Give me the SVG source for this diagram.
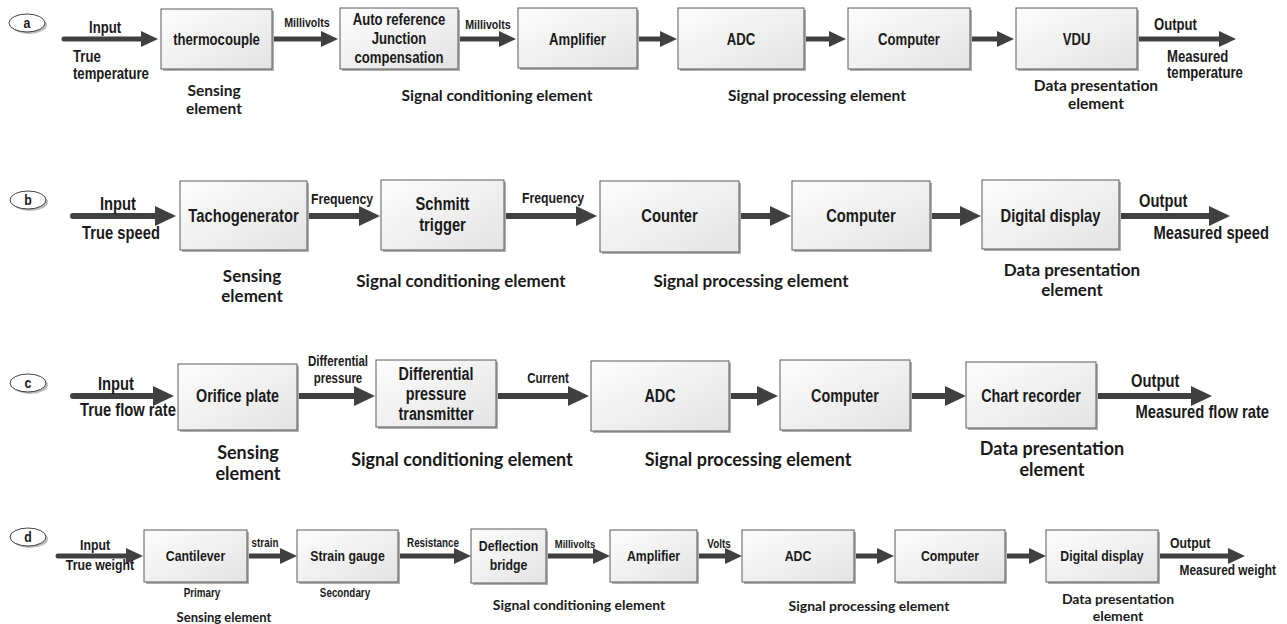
<svg xmlns="http://www.w3.org/2000/svg" width="1287" height="624" viewBox="0 0 1287 624">
<defs>
<linearGradient id="bg" x1="0" y1="0" x2="1" y2="1">
<stop offset="0" stop-color="#fdfdfd"/>
<stop offset="1" stop-color="#e3e3e3"/>
</linearGradient>
<marker id="hA" markerUnits="userSpaceOnUse" markerWidth="18" markerHeight="16" refX="7" refY="8" orient="auto">
<path d="M0,0 L17,8 L0,16 Z" fill="#404040"/>
</marker>
<marker id="hB" markerUnits="userSpaceOnUse" markerWidth="22" markerHeight="20" refX="9" refY="10" orient="auto">
<path d="M0,0 L21,10 L0,20 Z" fill="#404040"/>
</marker>
</defs>
<style>
.box{fill:url(#bg);stroke:#5a5a5a;stroke-width:1}
.sh{fill:#b0b0b0}
.n{font-family:'Liberation Sans',Arial,sans-serif;font-weight:bold;fill:#1a1a1a}
.m{text-anchor:middle}
.e{text-anchor:end}
.sec{font-family:Lato,'Open Sans',sans-serif;font-weight:bold;fill:#1a1a1a;text-anchor:middle}
.arA{stroke:#404040;stroke-width:5;fill:none;stroke-linecap:round;marker-end:url(#hA)}
.arB{stroke:#404040;stroke-width:6;fill:none;stroke-linecap:round;marker-end:url(#hB)}
.el{fill:#fff;stroke:#444;stroke-width:1}
.els{fill:#bbb}
.s16{font-size:16px}.s13{font-size:13px}.s18{font-size:18px}.s15{font-size:15px}.s175{font-size:17.5px}.s14{font-size:14px}.s12{font-size:12px}.s115{font-size:11.5px}.s145{font-size:14.5px}
</style>

<!-- connectors -->
<g id="connectors">
<line class="arA" x1="64" y1="39" x2="148" y2="39"/>
<line class="arA" x1="272" y1="39" x2="328" y2="39"/>
<line class="arA" x1="458" y1="39" x2="506" y2="39"/>
<line class="arA" x1="637" y1="39" x2="667" y2="39"/>
<line class="arA" x1="804" y1="39" x2="836" y2="39"/>
<line class="arA" x1="971" y1="39" x2="1004" y2="39"/>
<line class="arA" x1="1138" y1="39" x2="1226" y2="39"/>

<line class="arB" x1="73" y1="216" x2="164" y2="216"/>
<line class="arB" x1="307" y1="216" x2="368" y2="216"/>
<line class="arB" x1="504" y1="216" x2="585" y2="216"/>
<line class="arB" x1="739" y1="216" x2="779" y2="216"/>
<line class="arB" x1="930" y1="216" x2="969" y2="216"/>
<line class="arB" x1="1119" y1="216" x2="1218" y2="216"/>

<line class="arB" x1="73" y1="396" x2="162" y2="396"/>
<line class="arB" x1="297" y1="396" x2="363" y2="396"/>
<line class="arB" x1="496" y1="396" x2="577" y2="396"/>
<line class="arB" x1="729" y1="396" x2="766" y2="396"/>
<line class="arB" x1="910" y1="396" x2="954" y2="396"/>
<line class="arB" x1="1096" y1="396" x2="1200" y2="396"/>

<line class="arA" x1="58" y1="556" x2="133" y2="556"/>
<line class="arA" x1="247" y1="556" x2="287" y2="556"/>
<line class="arA" x1="398" y1="556" x2="461" y2="556"/>
<line class="arA" x1="546" y1="556" x2="600" y2="556"/>
<line class="arA" x1="697" y1="556" x2="732" y2="556"/>
<line class="arA" x1="854" y1="556" x2="884" y2="556"/>
<line class="arA" x1="1005" y1="556" x2="1036" y2="556"/>
<line class="arA" x1="1158" y1="556" x2="1235" y2="556"/>
</g>

<!-- row a -->
<g id="label-a"><ellipse class="els" cx="29" cy="25" rx="18" ry="9"/><ellipse class="el" cx="27" cy="23" rx="18" ry="9"/><text class="n m s15" transform="matrix(.82 0 0 1 27 28)">a</text></g>
<g id="a-input"><text class="n m s16" transform="matrix(.82 0 0 1 105 33)">Input</text><text class="n s16" transform="matrix(.82 0 0 1 73 62)">True</text><text class="n s16" transform="matrix(.82 0 0 1 73 79)">temperature</text></g>
<g id="a-thermocouple"><rect class="sh" x="163" y="11" width="111" height="60"/><rect class="box" x="161" y="9" width="111" height="60"/><text class="n m s16" transform="matrix(.82 0 0 1 216.5 45)">thermocouple</text></g>
<g id="a-mv1"><text class="n m s13" transform="matrix(.82 0 0 1 307 27)">Millivolts</text></g>
<g id="a-autoref"><rect class="sh" x="342" y="10" width="118" height="61"/><rect class="box" x="340" y="8" width="118" height="61"/><text class="n m s16" transform="matrix(.82 0 0 1 399 25)">Auto reference</text><text class="n m s16" transform="matrix(.82 0 0 1 399 44)">Junction</text><text class="n m s16" transform="matrix(.82 0 0 1 399 63)">compensation</text></g>
<g id="a-mv2"><text class="n m s13" transform="matrix(.82 0 0 1 488 29)">Millivolts</text></g>
<g id="a-amplifier"><rect class="sh" x="520" y="10" width="119" height="60"/><rect class="box" x="518" y="8" width="119" height="60"/><text class="n m s16" transform="matrix(.82 0 0 1 577.5 45)">Amplifier</text></g>
<g id="a-adc"><rect class="sh" x="680" y="10" width="126" height="61"/><rect class="box" x="678" y="8" width="126" height="61"/><text class="n m s16" transform="matrix(.82 0 0 1 741 45)">ADC</text></g>
<g id="a-computer"><rect class="sh" x="850" y="10" width="122" height="61"/><rect class="box" x="848" y="8" width="122" height="61"/><text class="n m s16" transform="matrix(.82 0 0 1 909 45)">Computer</text></g>
<g id="a-vdu"><rect class="sh" x="1018" y="10" width="121" height="61"/><rect class="box" x="1016" y="8" width="121" height="61"/><text class="n m s16" transform="matrix(.82 0 0 1 1076.5 45)">VDU</text></g>
<g id="a-output"><text class="n s16" transform="matrix(.82 0 0 1 1154 30)">Output</text><text class="n s16" transform="matrix(.82 0 0 1 1167 62)">Measured</text><text class="n s16" transform="matrix(.82 0 0 1 1167 78)">temperature</text></g>
<g id="a-sections">
<text class="sec" style="font-size:15.5px" x="214" y="96">Sensing</text><text class="sec" style="font-size:15.5px" x="214" y="114">element</text>
<text class="sec" style="font-size:15.5px" x="497" y="101">Signal conditioning element</text>
<text class="sec" style="font-size:15.5px" x="817" y="101">Signal processing element</text>
<text class="sec" style="font-size:15.5px" x="1096" y="91">Data presentation</text><text class="sec" style="font-size:15.5px" x="1096" y="109">element</text>
</g>

<!-- row b -->
<g id="label-b"><ellipse class="els" cx="30" cy="202" rx="18" ry="9"/><ellipse class="el" cx="28" cy="200" rx="18" ry="9"/><text class="n m s15" transform="matrix(.82 0 0 1 28 205)">b</text></g>
<g id="b-input"><text class="n m s18" transform="matrix(.82 0 0 1 118 210)">Input</text><text class="n m s18" transform="matrix(.82 0 0 1 121 239)">True speed</text></g>
<g id="b-tacho"><rect class="sh" x="182" y="183" width="127" height="69"/><rect class="box" x="180" y="181" width="127" height="69"/><text class="n m s18" transform="matrix(.82 0 0 1 243.5 222)">Tachogenerator</text></g>
<g id="b-freq1"><text class="n m s15" transform="matrix(.82 0 0 1 342 204)">Frequency</text></g>
<g id="b-schmitt"><rect class="sh" x="383" y="182" width="123" height="70"/><rect class="box" x="381" y="180" width="123" height="70"/><text class="n m s18" transform="matrix(.82 0 0 1 442.5 210)">Schmitt</text><text class="n m s18" transform="matrix(.82 0 0 1 442.5 231)">trigger</text></g>
<g id="b-freq2"><text class="n m s15" transform="matrix(.82 0 0 1 553 203)">Frequency</text></g>
<g id="b-counter"><rect class="sh" x="602" y="183" width="139" height="71"/><rect class="box" x="600" y="181" width="139" height="71"/><text class="n m s18" transform="matrix(.82 0 0 1 669.5 222)">Counter</text></g>
<g id="b-computer"><rect class="sh" x="794" y="183" width="138" height="69"/><rect class="box" x="792" y="181" width="138" height="69"/><text class="n m s18" transform="matrix(.82 0 0 1 861 222)">Computer</text></g>
<g id="b-display"><rect class="sh" x="984" y="182" width="137" height="69"/><rect class="box" x="982" y="180" width="137" height="69"/><text class="n m s18" transform="matrix(.82 0 0 1 1050.5 222)">Digital display</text></g>
<g id="b-output"><text class="n s18" transform="matrix(.82 0 0 1 1139 207)">Output</text><text class="n e s18" transform="matrix(.82 0 0 1 1269 239)">Measured speed</text></g>
<g id="b-sections">
<text class="sec" style="font-size:17px" x="252" y="282">Sensing</text><text class="sec" style="font-size:17px" x="252" y="302">element</text>
<text class="sec" style="font-size:17px" x="461" y="287">Signal conditioning element</text>
<text class="sec" style="font-size:17px" x="751" y="287">Signal processing element</text>
<text class="sec" style="font-size:17px" x="1072" y="276">Data presentation</text><text class="sec" style="font-size:17px" x="1072" y="296">element</text>
</g>

<!-- row c -->
<g id="label-c"><ellipse class="els" cx="30" cy="385" rx="18" ry="9"/><ellipse class="el" cx="28" cy="383" rx="18" ry="9"/><text class="n m s15" transform="matrix(.82 0 0 1 28 388)">c</text></g>
<g id="c-input"><text class="n m s18" transform="matrix(.82 0 0 1 116 390)">Input</text><text class="n m s18" transform="matrix(.82 0 0 1 128 416)">True flow rate</text></g>
<g id="c-orifice"><rect class="sh" x="180" y="366" width="119" height="66"/><rect class="box" x="178" y="364" width="119" height="66"/><text class="n m s175" transform="matrix(.82 0 0 1 237.5 402)">Orifice plate</text></g>
<g id="c-dp"><text class="n m s14" transform="matrix(.82 0 0 1 338 366)">Differential</text><text class="n m s14" transform="matrix(.82 0 0 1 338 383)">pressure</text></g>
<g id="c-dpt"><rect class="sh" x="378" y="362" width="120" height="67"/><rect class="box" x="376" y="360" width="120" height="67"/><text class="n m s175" transform="matrix(.82 0 0 1 436 380)">Differential</text><text class="n m s175" transform="matrix(.82 0 0 1 436 400)">pressure</text><text class="n m s175" transform="matrix(.82 0 0 1 436 420)">transmitter</text></g>
<g id="c-current"><text class="n m s14" transform="matrix(.82 0 0 1 548 383)">Current</text></g>
<g id="c-adc"><rect class="sh" x="593" y="363" width="138" height="70"/><rect class="box" x="591" y="361" width="138" height="70"/><text class="n m s175" transform="matrix(.82 0 0 1 660 402)">ADC</text></g>
<g id="c-computer"><rect class="sh" x="782" y="362" width="130" height="70"/><rect class="box" x="780" y="360" width="130" height="70"/><text class="n m s175" transform="matrix(.82 0 0 1 845 402)">Computer</text></g>
<g id="c-chart"><rect class="sh" x="968" y="364" width="130" height="66"/><rect class="box" x="966" y="362" width="130" height="66"/><text class="n m s175" transform="matrix(.82 0 0 1 1031 402)">Chart recorder</text></g>
<g id="c-output"><text class="n s18" transform="matrix(.82 0 0 1 1131 387)">Output</text><text class="n e s18" transform="matrix(.82 0 0 1 1269 418)">Measured flow rate</text></g>
<g id="c-sections">
<text class="sec" style="font-size:18px" x="248" y="459">Sensing</text><text class="sec" style="font-size:18px" x="248" y="480">element</text>
<text class="sec" style="font-size:18px" x="462" y="466">Signal conditioning element</text>
<text class="sec" style="font-size:18px" x="748" y="466">Signal processing element</text>
<text class="sec" style="font-size:18px" x="1052" y="455">Data presentation</text><text class="sec" style="font-size:18px" x="1052" y="476">element</text>
</g>

<!-- row d -->
<g id="label-d"><ellipse class="els" cx="30" cy="539" rx="18" ry="9"/><ellipse class="el" cx="28" cy="537" rx="18" ry="9"/><text class="n m s15" transform="matrix(.82 0 0 1 28 542)">d</text></g>
<g id="d-input"><text class="n m s15" transform="matrix(.82 0 0 1 95 550)">Input</text><text class="n m s15" transform="matrix(.82 0 0 1 100 570)">True weight</text></g>
<g id="d-cantilever"><rect class="sh" x="146" y="532" width="103" height="52"/><rect class="box" x="144" y="530" width="103" height="52"/><text class="n m s15" transform="matrix(.82 0 0 1 195.5 561)">Cantilever</text></g>
<g id="d-strain"><text class="n m s12" transform="matrix(.82 0 0 1 265 547)">strain</text></g>
<g id="d-gauge"><rect class="sh" x="299" y="532" width="101" height="52"/><rect class="box" x="297" y="530" width="101" height="52"/><text class="n m s15" transform="matrix(.82 0 0 1 347.5 561)">Strain gauge</text></g>
<g id="d-res"><text class="n m s12" transform="matrix(.82 0 0 1 433 547)">Resistance</text></g>
<g id="d-bridge"><rect class="sh" x="473" y="531" width="75" height="54"/><rect class="box" x="471" y="529" width="75" height="54"/><text class="n m s15" transform="matrix(.82 0 0 1 508.5 551)">Deflection</text><text class="n m s15" transform="matrix(.82 0 0 1 508.5 570)">bridge</text></g>
<g id="d-mv"><text class="n m s115" transform="matrix(.82 0 0 1 575 548)">Millivolts</text></g>
<g id="d-amplifier"><rect class="sh" x="612" y="532" width="87" height="52"/><rect class="box" x="610" y="530" width="87" height="52"/><text class="n m s15" transform="matrix(.82 0 0 1 653.5 561)">Amplifier</text></g>
<g id="d-volts"><text class="n m s12" transform="matrix(.82 0 0 1 719 548)">Volts</text></g>
<g id="d-adc"><rect class="sh" x="744" y="532" width="112" height="52"/><rect class="box" x="742" y="530" width="112" height="52"/><text class="n m s15" transform="matrix(.82 0 0 1 798 561)">ADC</text></g>
<g id="d-computer"><rect class="sh" x="897" y="532" width="110" height="52"/><rect class="box" x="895" y="530" width="110" height="52"/><text class="n m s15" transform="matrix(.82 0 0 1 950 561)">Computer</text></g>
<g id="d-display"><rect class="sh" x="1048" y="532" width="112" height="52"/><rect class="box" x="1046" y="530" width="112" height="52"/><text class="n m s15" transform="matrix(.82 0 0 1 1102 561)">Digital display</text></g>
<g id="d-output"><text class="n s15" transform="matrix(.82 0 0 1 1170 548)">Output</text><text class="n e s145" transform="matrix(.82 0 0 1 1276 575)">Measured weight</text></g>
<g id="d-sections">
<text class="n m s12" transform="matrix(.82 0 0 1 202 597)">Primary</text><text class="n m s12" transform="matrix(.82 0 0 1 345 597)">Secondary</text>
<text class="sec" style="font-size:13px" x="224" y="622">Sensing element</text>
<text class="sec" style="font-size:14px" x="579" y="610">Signal conditioning element</text>
<text class="sec" style="font-size:14px" x="869" y="611">Signal processing element</text>
<text class="sec" style="font-size:14px" x="1118" y="604">Data presentation</text><text class="sec" style="font-size:14px" x="1118" y="621">element</text>
</g>
</svg>
